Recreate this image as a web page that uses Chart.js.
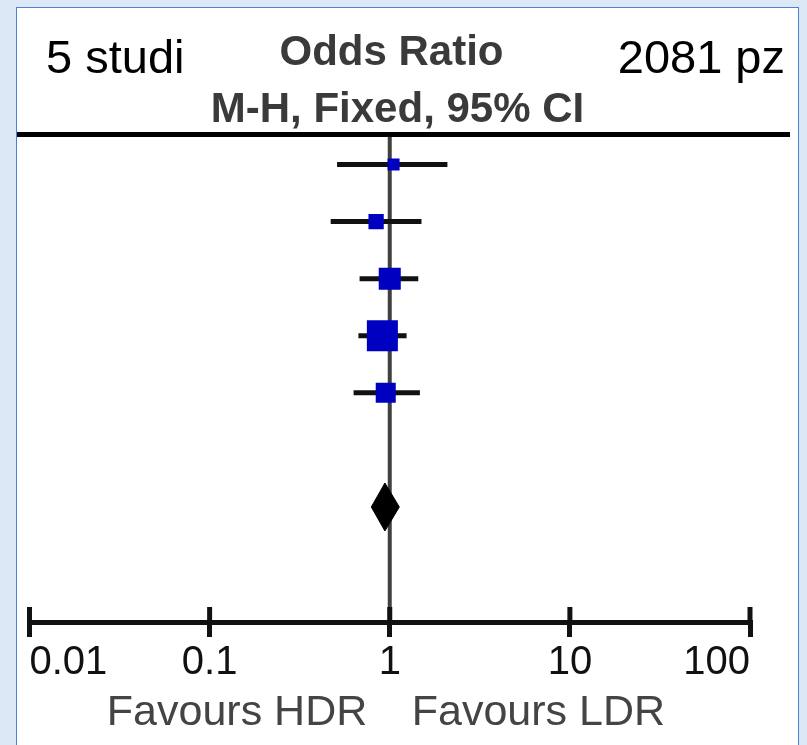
<!DOCTYPE html>
<html>
<head>
<meta charset="utf-8">
<script src="https://cdn.jsdelivr.net/npm/chart.js@4.4.1/dist/chart.umd.min.js"></script>
<style>
    html, body { margin: 0; padding: 0; width: 807px; height: 745px; overflow: hidden; background: #dde8f6; }
    #pannello { position: absolute; left: 16px; top: 7px; width: 781px; height: 760px; background: #fff; border: 1px solid #4d80dc; }
    #canva { position: absolute; left: 0; top: 0; }
</style>
</head>
<body>
<div id="pannello"></div>
<canvas id="canva" width="807" height="745"></canvas>
<script>
// studi, dall'alto in basso
var riga = [1, 2, 3, 4, 5];
var odds = [1.05, 0.84, 1.00, 0.91, 0.95];
var ci_basso = [0.51, 0.47, 0.68, 0.67, 0.63];
var ci_alto = [2.09, 1.50, 1.44, 1.24, 1.47];
var peso = [6.5, 10.5, 21.8, 43.2, 18.0];

// totale (diamante)
var riga_totale = 7;
var totale_or = 0.94;
var totale_basso = 0.79;
var totale_alto = 1.13;

var tick_valori = [0.01, 0.1, 1, 10, 100];
var tick_etichette = ["0.01", "0.1", "1", "10", "100"];

var font_base = "'Liberation Sans', Arial, sans-serif";

// segmenti degli intervalli di confidenza
var linee_ci = riga.map(function (r, i) {
    return {
        data: [{ x: ci_basso[i], y: r }, { x: ci_alto[i], y: r }],
        showLine: true,
        borderColor: "#111",
        borderWidth: 5,
        borderCapStyle: "butt",
        pointRadius: 0,
        order: 2
    };
});

var quadrati = {
    data: riga.map(function (r, i) { return { x: odds[i], y: r }; }),
    pointStyle: "rect",
    // lato del quadrato proporzionale alla radice del peso
    pointRadius: peso.map(function (w) { return Math.sqrt(w) * 4.72 / Math.SQRT2; }),
    backgroundColor: "#0000c0",
    borderWidth: 0,
    order: 0
};

var mezza_altezza = 0.42;
var diamante = {
    data: [
        { x: totale_basso, y: riga_totale },
        { x: totale_or, y: riga_totale - mezza_altezza },
        { x: totale_alto, y: riga_totale },
        { x: totale_or, y: riga_totale + mezza_altezza },
        { x: totale_basso, y: riga_totale }
    ],
    showLine: true,
    fill: "shape",
    borderColor: "#000",
    backgroundColor: "#000",
    borderWidth: 1,
    pointRadius: 0,
    order: 1
};

const decorazioni = {
    id: "decorazioni",
    beforeDatasetsDraw(chart) {
        const c = chart.ctx, a = chart.chartArea, sx = chart.scales.x;
        const x1 = sx.getPixelForValue(1);
        c.save();
        // linea di non effetto
        c.strokeStyle = "#404040";
        c.lineWidth = 4;
        c.beginPath();
        c.moveTo(x1, a.top);
        c.lineTo(x1, a.bottom);
        c.stroke();
        // parte alta dei tick dell'asse
        c.strokeStyle = "#111";
        c.lineWidth = 5;
        sx.ticks.forEach(function (t) {
            const px = sx.getPixelForValue(t.value);
            c.beginPath();
            c.moveTo(px, a.bottom - 15);
            c.lineTo(px, a.bottom);
            c.stroke();
        });
        c.restore();
    },
    afterDraw(chart) {
        const c = chart.ctx, a = chart.chartArea, sx = chart.scales.x;
        const x1 = sx.getPixelForValue(1);
        c.save();
        // linea sotto l'intestazione
        c.strokeStyle = "#000";
        c.lineWidth = 5;
        c.beginPath();
        c.moveTo(17, a.top);
        c.lineTo(790, a.top);
        c.stroke();

        c.textBaseline = "alphabetic";
        c.fillStyle = "#000";
        c.font = "47px " + font_base;
        c.textAlign = "left";
        c.fillText("5 studi", 46, 73);
        c.textAlign = "right";
        c.fillText("2081 pz", 785, 73);

        c.fillStyle = "#3a3a3a";
        c.font = "bold 42px " + font_base;
        c.textAlign = "center";
        c.fillText("Odds Ratio", 391.5, 65);
        c.fillText("M-H, Fixed, 95% CI", 397.5, 121.5);

        c.fillStyle = "#444";
        c.font = "43px " + font_base;
        c.textAlign = "right";
        c.fillText("Favours HDR", x1 - 22.5, 725);
        c.textAlign = "left";
        c.fillText("Favours LDR", x1 + 22, 725);
        c.restore();
    }
};

const ctx = document.getElementById("canva");
const grafico = new Chart(ctx, {
    type: "scatter",
    data: { datasets: linee_ci.concat([quadrati, diamante]) },
    options: {
        responsive: false,
        animation: false,
        events: [],
        layout: { padding: { top: 134.5, left: 29.5, right: 57, bottom: 60 } },
        plugins: {
            legend: { display: false },
            tooltip: { enabled: false },
            title: { display: false }
        },
        scales: {
            x: {
                type: "logarithmic",
                min: 0.01,
                max: 100,
                afterBuildTicks: function (s) {
                    s.ticks = tick_valori.map(function (v) { return { value: v }; });
                },
                afterFit: function (s) { s.height = 63; },
                grid: {
                    display: true,
                    drawOnChartArea: false,
                    drawTicks: true,
                    tickLength: 15,
                    lineWidth: 5,
                    color: "#111"
                },
                border: { display: true, width: 5, color: "#111" },
                ticks: {
                    align: "inner",
                    padding: 2,
                    autoSkip: false,
                    maxRotation: 0,
                    color: "#111",
                    font: { family: font_base, size: 40 },
                    callback: function (v, i) { return tick_etichette[i]; }
                }
            },
            y: {
                type: "linear",
                display: false,
                reverse: true,
                min: 0.474,
                max: 9.015
            }
        }
    },
    plugins: [decorazioni]
});
</script>
</body>
</html>
